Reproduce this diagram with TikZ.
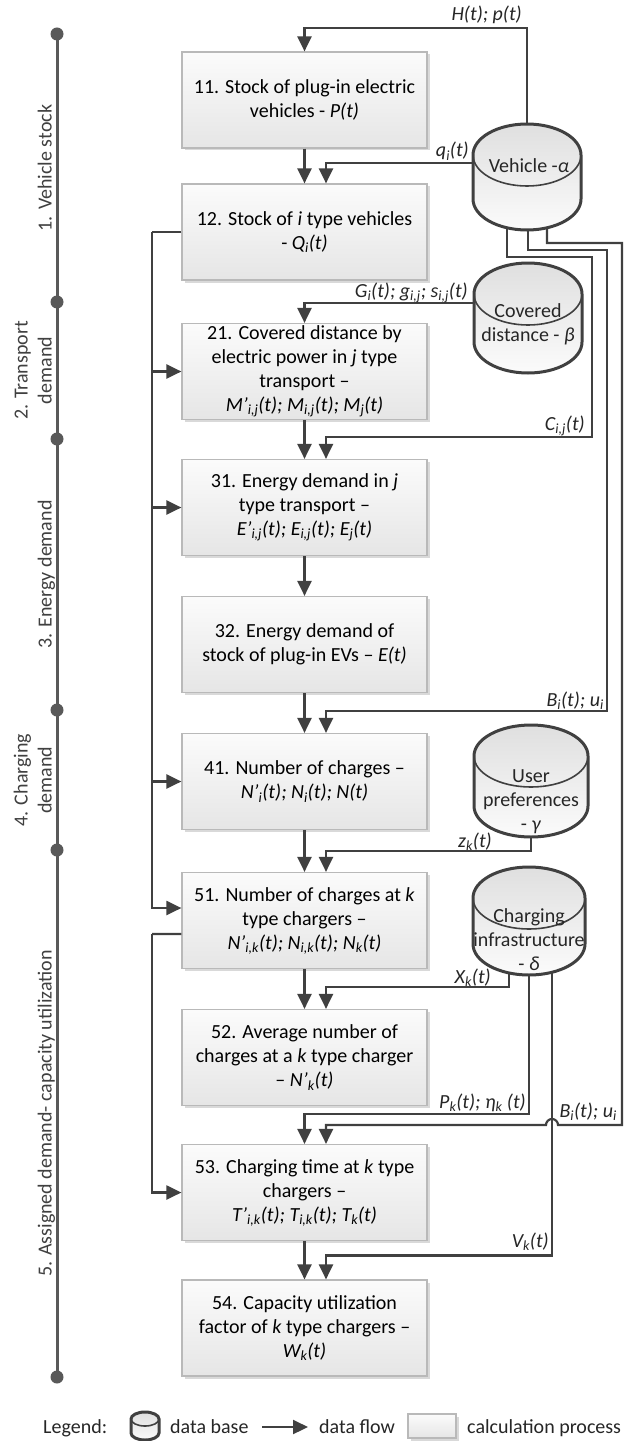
\documentclass[tikz,border=0pt]{standalone}
\usepackage{fontspec}
\setmainfont{Carlito}
\usetikzlibrary{arrows.meta,shadows,calc}
\definecolor{lc}{HTML}{404040}
\definecolor{tl}{HTML}{595959}
\newcommand\sbs[1]{\textsubscript{#1}}
\newcommand\dbcyl[5]{%
  \pgfmathsetmacro\rxx{(#3-#1)/2}%
  \draw[dbshape] (#1,#2+#5) arc[start angle=180,end angle=360,x radius=\rxx,y radius=#5] -- (#3,#4-#5) arc[start angle=0,end angle=180,x radius=\rxx,y radius=#5] -- cycle;
  \draw[dbinner] (#1,#2+#5) arc[start angle=180,end angle=0,x radius=\rxx,y radius=#5];}
\begin{document}
\begin{tikzpicture}[x=1bp,y=-1bp,
  every node/.style={font=\fontsize{20bp}{24bp}\selectfont},
  box/.style={draw=gray!55, line width=1.2bp, top color=gray!3, bottom color=gray!20,
    minimum width=245bp, minimum height=96bp, align=center, inner sep=2bp,
    drop shadow={shadow xshift=2.5bp, shadow yshift=-2.5bp, fill=black, opacity=0.15}},
  flow/.style={draw=lc, line width=2.2bp, -{Triangle[length=15bp,width=14bp]}},
  plain/.style={draw=lc, line width=2.2bp},
  lab/.style={font=\fontsize{20bp}{24bp}\selectfont\itshape, inner sep=0, anchor=base east, text=black!85},
  dbshape/.style={draw=lc, line width=3bp, top color=gray!25, bottom color=gray!3},
  dbinner/.style={draw=lc, line width=1.6bp},
  dbtext/.style={align=center, inner sep=0, text=black!85},
  tlab/.style={rotate=90, inner sep=0, text=lc},
  leg/.style={anchor=base west, inner sep=0, text=black!85}]
\fill[white] (0,0) rectangle (624,1441);
\useasboundingbox (0,0) rectangle (624,1441);

% timeline
\draw[tl, line width=3bp] (57,34) -- (57,1377);
\foreach \yy in {34,302,439,710,850,1377} \fill[tl] (57,\yy) circle[radius=6.5];
\node[tlab, anchor=base] (t1) at (51.5,168) {1. Vehicle stock};
\node[tlab, anchor=south, align=center] (t2) at (52,370.5) {2. Transport\\demand};
\node[tlab, anchor=base] (t3) at (51.5,574.5) {3. Energy demand};
\node[tlab, anchor=south, align=center] (t4) at (52,780) {4. Charging\\demand};
\node[tlab, anchor=base] (t5) at (51.5,1113.5) {5. Assigned demand- capacity utilization};

% boxes
\node[box] (b11) at (304.5,100) {11. Stock of plug-in electric\\vehicles - \textit{P(t)}};
\node[box] (b12) at (304.5,232) {12. Stock of \textit{i} type vehicles\\- \textit{Q\sbs{i}(t)}};
\node[box] (b21) at (304.5,371.5) {21. Covered distance by\\electric power in \textit{j} type\\transport –\\\textit{M’\sbs{i,j}(t); M\sbs{i,j}(t); M\sbs{j}(t)}};
\node[box] (b31) at (304.5,507.5) {31. Energy demand in \textit{j}\\type transport –\\\textit{E’\sbs{i,j}(t); E\sbs{i,j}(t); E\sbs{j}(t)}};
\node[box] (b32) at (304.5,644.5) {32. Energy demand of\\stock of plug-in EVs – \textit{E(t)}};
\node[box] (b41) at (304.5,781.5) {41. Number of charges –\\\textit{N’\sbs{i}(t); N\sbs{i}(t); N(t)}};
\node[box] (b51) at (304.5,920.5) {51. Number of charges at \textit{k}\\type chargers –\\\textit{N’\sbs{i,k}(t); N\sbs{i,k}(t); N\sbs{k}(t)}};
\node[box] (b52) at (304.5,1057.5) {52. Average number of\\charges at a \textit{k} type charger\\– \textit{N’\sbs{k}(t)}};
\node[box] (b53) at (304.5,1192.5) {53. Charging time at \textit{k} type\\chargers –\\\textit{T’\sbs{i,k}(t); T\sbs{i,k}(t); T\sbs{k}(t)}};
\node[box] (b54) at (304.5,1328) {54. Capacity utilization\\factor of \textit{k} type chargers –\\\textit{W\sbs{k}(t)}};

% attachment points on data bases
\coordinate (vehTop) at (527,128);
\coordinate (vehL) at (475,163);
\coordinate (vehB1) at (507,225);
\coordinate (vehB2) at (528,225);
\coordinate (vehB3) at (547,225);
\coordinate (covL) at (476,303);
\coordinate (upB) at (531,832);
\coordinate (chB1) at (509,970);
\coordinate (chB2) at (529,970);
\coordinate (chB3) at (552,970);
\coordinate (bus1) at (152,232);
\coordinate (bus2) at (152,934);

% connectors
\draw[flow] (vehTop) |- ([yshift=23bp]b11.north) -- (b11.north);
\draw[flow] (b11.south) -- (b12.north);
\draw[flow] (vehL) -| ([xshift=21.5bp]b12.north);
\draw[plain] (b12.west) -- (bus1);
\draw[flow] (bus1) |- ([yshift=12.5bp]b51.west);
\draw[flow] (bus1 |- b21.west) -- (b21.west);
\draw[flow] (bus1 |- b31.west) -- (b31.west);
\draw[flow] (bus1 |- b41.west) -- (b41.west);
\draw[plain] ([yshift=-13.5bp]b51.west) -- (bus2);
\draw[flow] (bus2) |- (b53.west);
\draw[flow] (covL) -| (b21.north);
\draw[flow] (b21.south) -- (b31.north);
\draw[flow] (vehB1) |- (592,257) |- ([xshift=21.5bp,yshift=22bp]b31.north) -- ([xshift=21.5bp]b31.north);
\draw[flow] (b31.south) -- (b32.north);
\draw[flow] (b32.south) -- (b41.north);
\draw[flow] (vehB2) |- (607,250) |- ([xshift=21.5bp,yshift=22bp]b41.north) -- ([xshift=21.5bp]b41.north);
\draw[flow] (b41.south) -- (b51.north);
\draw[flow] (upB) |- ([xshift=21.5bp,yshift=21bp]b51.north) -- ([xshift=21.5bp]b51.north);
\draw[flow] (b51.south) -- (b52.north);
\draw[flow] (chB1) |- ([xshift=21.5bp,yshift=22bp]b52.north) -- ([xshift=21.5bp]b52.north);
\draw[flow] (chB2) |- ([yshift=30bp]b53.north) -- (b53.north);
\draw[flow] (chB3) |- ([xshift=21.5bp,yshift=24bp]b54.north) -- ([xshift=21.5bp]b54.north);
\draw[flow] (vehB3) |- (622,243) |- (558,1125) arc[start angle=0,end angle=-180,radius=6] -| ([xshift=21.5bp]b53.north);
\draw[flow] (b53.south) -- (b54.north);

% connector labels
\node[lab] (lH) at (522,21) {H(t); p(t)};
\node[lab] (lq) at (469,157) {q\sbs{i}(t)};
\node[lab] (lG) at (468,297) {G\sbs{i}(t); g\sbs{i,j}; s\sbs{i,j}(t)};
\node[lab] (lC) at (585,430) {C\sbs{i,j}(t)};
\node[lab] (lB1) at (604,706) {B\sbs{i}(t); u\sbs{i}};
\node[lab] (lz) at (492,847) {z\sbs{k}(t)};
\node[lab] (lX) at (491,983) {X\sbs{k}(t)};
\node[lab] (lP) at (526,1108) {P\sbs{k}(t); η\sbs{k} (t)};
\node[lab] (lB2) at (617,1117) {B\sbs{i}(t); u\sbs{i}};
\node[lab] (lV) at (549,1247) {V\sbs{k}(t)};

% data bases
\dbcyl{473}{124}{581}{230}{31}
\node[dbtext] (vehT) at (529,166) {Vehicle -\textit{α}};
\dbcyl{474}{263}{582}{373}{31}
\node[dbtext] (covT) at (528,324.5) {Covered\\distance - \textit{β}};
\dbcyl{474}{725}{588}{837}{31}
\node[dbtext] (upT) at (531,802) {User\\preferences\\- \textit{γ}};
\dbcyl{473}{867}{585}{975}{31}
\node[dbtext] (chT) at (529,940) {Charging\\infrastructure\\- \textit{δ}};

% legend
\node[leg] (lg1) at (43,1433) {Legend:};
\dbcyl{131}{1412}{159}{1440}{7}
\node[leg] (lg2) at (170,1433) {data base};
\coordinate (la1) at (262,1427);
\coordinate (la2) at (308,1427);
\draw[flow] (la1) -- (la2);
\node[leg] (lg3) at (319,1433) {data flow};
\node[box, minimum width=48bp, minimum height=24bp, inner sep=0] (lbox) at (432,1426) {};
\node[leg] (lg4) at (467,1433) {calculation process};
\end{tikzpicture}
\end{document}
